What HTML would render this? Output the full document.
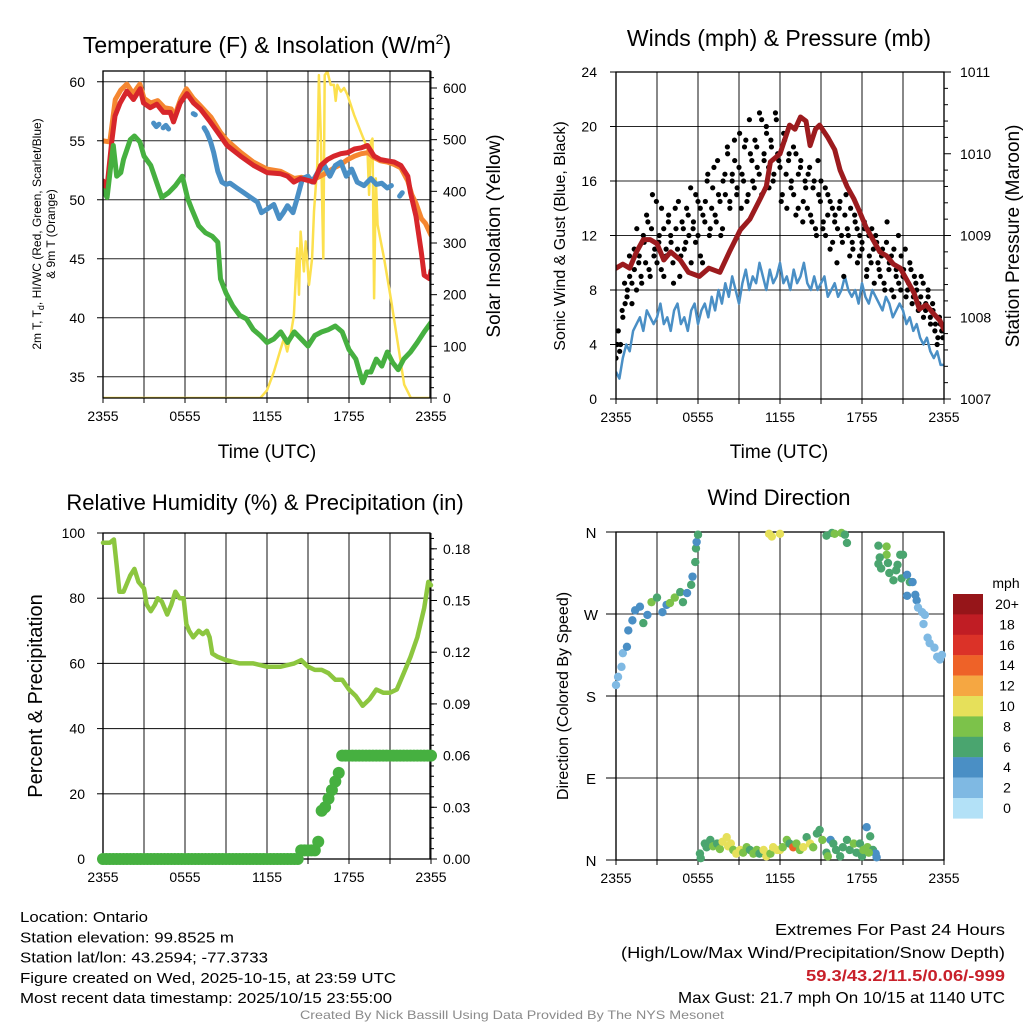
<!DOCTYPE html>
<html><head><meta charset="utf-8"><style>
html,body{margin:0;padding:0;background:#fff}
svg{display:block;font-family:"Liberation Sans",Arial,sans-serif}
</style></head><body>
<svg id="c" width="1024" height="1024" viewBox="0 0 1024 1024"></svg>
<script>
// ---------- DATA ----------
const redH=[0,0.27,0.64,0.88,1.25,1.74,2.23,2.72,2.96,3.45,3.94,4.43,4.92,5.16,5.65,6.14,6.63,7.12,7.85,8.59,9.08,10.06,11.03,12.0,13.0,13.5,13.97,14.46,15.44,15.93,16.42,16.9,17.4,17.9,18.4,18.9,19.35,19.84,20.3,20.8,21.3,21.8,22.3,22.5,22.9,23.3,23.5,23.9,24];
const redT=[51.6,50.8,54.9,57.1,58.2,59.2,58.5,59.4,58.2,57.8,58.1,57.4,57.4,56.6,58.2,59.0,58.2,57.7,56.6,55.4,54.6,53.7,52.9,52.3,52.2,52.0,51.5,51.8,51.5,52.9,53.4,53.7,53.9,54.0,54.3,54.4,54.6,53.7,53.4,53.3,53.2,52.9,52.0,50.6,48.6,45.5,43.6,43.3,44.0];
const orH=[0,0.5,0.9,1.3,1.75,2.2,2.7,3.0,3.5,4.0,4.5,5.0,5.2,5.7,6.1,6.6,7.1,7.9,8.6,9.1,10.1,11.0,12.0,13.0,14.0,14.5,15.4,15.9,16.4,16.9,17.4,17.9,18.4,18.9,19.4,19.8,20.3,20.8,21.3,21.8,22.3,22.6,22.9,23.3,23.6,24];
const orT=[55.0,54.9,58.5,59.3,59.8,59.0,59.8,58.6,58.2,58.4,57.8,57.7,57.0,58.6,59.4,58.6,58.0,57.0,55.7,55.0,54.0,53.2,52.6,52.4,51.8,51.9,51.7,52.0,52.3,52.7,53.0,53.4,53.7,53.9,54.0,53.6,53.3,53.2,53.0,52.7,51.6,50.4,49.7,48.4,48.0,47.0];
const blueSegH=[[3.7,3.9,4.1],[4.4,4.6,4.8],[6.6,6.75],[7.4,7.6,7.85,8.1,8.4,8.7,9.0,9.3,9.8,10.3,10.8,11.3,11.6,12.0,12.5,12.9,13.2,13.5,13.9,14.2,14.6,15.0,15.3,15.7,16.2,16.6,17.0,17.4,17.8,18.2,18.6,19.1,19.6,20.0,20.4,20.8,21.1],[21.7,21.9]];
const blueSegT=[[56.5,56.2,56.4],[56.1,56.3,56.0],[57.3,57.2],[56.1,55.7,55.0,54.0,52.4,51.5,51.3,51.4,51.0,50.6,50.2,49.8,48.9,49.2,49.6,48.4,48.9,49.5,48.9,50.1,51.8,52.0,51.5,52.3,52.9,52.0,52.9,53.2,52.0,52.6,51.5,51.2,51.8,51.3,51.4,51.0,51.2],[50.3,50.6]];
const grH=[0,0.3,0.6,0.75,1.0,1.3,1.5,2.0,2.3,2.7,3.0,3.5,4.0,4.3,4.8,5.3,5.8,6.2,6.5,7.0,7.5,8.0,8.4,8.6,9.0,9.5,10.0,10.5,11.0,11.5,12.0,12.5,13.0,13.5,14.0,14.5,15.0,15.5,16.0,16.5,17.0,17.5,18.0,18.5,19.0,19.3,19.6,20.0,20.4,20.8,21.2,21.6,22.0,22.5,23.0,23.5,24];
const grT=[50.8,50.2,53.2,54.6,52.0,52.3,53.4,55.1,55.4,54.9,53.7,52.9,51.2,50.2,50.6,51.2,52.0,50.1,49.2,47.8,47.2,46.9,46.4,43.3,42.1,41.0,40.2,39.9,39.0,38.5,37.9,38.2,38.8,37.9,38.8,38.2,37.6,38.5,38.8,39.0,39.3,38.8,37.3,36.5,34.5,35.4,35.4,36.5,35.9,37.1,36.2,35.6,36.5,37.1,37.9,38.8,39.6];
const solH=[0,11.52,12.0,12.5,13.0,13.24,13.48,13.72,13.97,14.21,14.34,14.46,14.7,14.83,15.07,15.3,15.44,15.68,15.8,15.93,16.12,16.22,16.42,16.66,16.9,17.03,17.15,17.4,17.64,17.88,18.37,18.86,19.35,19.47,19.6,19.72,19.84,19.96,20.09,20.57,21.06,21.55,22.04,22.53,24];
const solW=[0,0,15,50,95,115,90,120,160,290,200,322,245,303,219,270,361,451,625,515,270,625,632,606,606,575,606,593,600,587,548,515,483,393,496,502,193,425,335,270,193,110,26,0,0];
const windV=[2,1.5,3,4,3.5,5,5.5,6,5,6.5,6,5.5,6,7,5.5,6,5,6.5,7,5.5,6,5,6.5,7,5.5,6.5,7,6,7.5,6.5,8,7,8.5,7.5,9,8,7,8.5,9.5,8,9,8.5,10,9,8,9.5,8.5,9,10,8.5,9,8,9.5,8.5,9,10,8.5,8,9,8,8.5,9,7.5,8,8.5,7.5,8,9,8,7.5,8,7,8.5,7.5,7,8,7.5,7,6.5,7.5,7,6,6.5,7,6.5,5.5,6,5,5.5,4.5,4,4.5,3.5,3,3.5,2.5,2.5];
const gustV=[3,5,4,6,7,8,9,7,11,8,10,9,12,10,13,9,15,11,10,12,14,9,11,13,12,10,14,11,9,13,11,14,12,10,13,15,12,14,10,13,16,12,14,17,13,15,12,16,15,18,14,16,19,15,17,14,16,19,15,18,16,19,17,21,15,18,20,17,19,16,21,18,17,15,19,14,18,16,15,18,14,17,13,16,14,17,13,16,12,15,16,13,12,15,11,14,13,10,14,12,9,15,12,14,11,13,10,12,11,13,9,12,10,11,12,10,9,11,8,13,10,8,11,9,12,8,9,11,8,10,7,9,8,7,9,6,7,8,6,7,5,4,6,5,5];
const gustB=[4,3.5,6.5,8.5,7.5,10.5,8.5,9.5,12.5,10.5,8.5,11.5,13.5,9.5,12.5,10.5,14.5,11.5,9.5,12.5,10.5,13.5,11.5,8.5,12.5,14.5,10.5,12.5,11.5,13.5,15.5,12.5,11.5,14.5,10.5,13.5,14.5,16.5,12.5,15.5,13.5,17.5,14.5,12.5,16.5,18.5,14.5,16.5,17.5,15.5,19.5,16.5,18.5,14.5,20.5,17.5,15.5,18.5,16.5,20.5,17.5,19.5,15.5,18.5,16.5,20.5,17.5,14.5,19.5,16.5,17.5,15.5,18.5,13.5,16.5,17.5,14.5,15.5,16.5,13.5,15.5,12.5,17.5,14.5,12.5,15.5,13.5,14.5,11.5,13.5,12.5,14.5,11.5,13.5,12.5,10.5,11.5,13.5,12.5,10.5,11.5,12.5,9.5,10.5,12.5,8.5,11.5,9.5,10.5,8.5,11.5,9.5,10.5,7.5,9.5,8.5,10.5,9.5,7.5,8.5,9.5,7.5,8.5,6.5,7.5,8.5,6.5,7.5,5.5,6.5,5.5,4.5,5.5,4.5];
const presH=[0,0.5,1.0,1.5,2.0,2.5,3.0,3.5,4.0,4.7,5.3,6.1,6.8,7.6,8.3,9.1,9.8,10.5,11.0,11.3,12.0,12.7,13.1,13.5,13.9,14.2,14.6,14.9,15.5,16.0,16.4,16.9,17.4,17.8,18.3,18.8,19.3,19.8,20.3,20.8,21.3,21.8,22.2,22.7,23.2,23.7,24];
const presP=[1008.6,1008.65,1008.6,1008.8,1008.95,1008.95,1008.9,1008.7,1008.8,1008.7,1008.55,1008.5,1008.6,1008.55,1008.8,1009.07,1009.2,1009.43,1009.6,1009.9,1010.0,1010.35,1010.3,1010.45,1010.4,1010.1,1010.3,1010.35,1010.2,1010.05,1009.8,1009.6,1009.45,1009.3,1009.1,1008.95,1008.8,1008.75,1008.65,1008.6,1008.45,1008.3,1008.1,1008.15,1008.05,1007.96,1007.85];
const rhH=[0,0.5,0.8,1.0,1.2,1.5,2.0,2.3,2.6,3.0,3.2,3.5,3.8,4.0,4.3,4.7,5.0,5.3,5.6,5.9,6.1,6.3,6.6,7.0,7.3,7.6,7.8,8.0,8.4,9.0,10,11,12,13,14,14.5,15,15.5,16,16.5,17,17.5,18,18.5,19,19.5,20,20.5,21,21.5,22,22.5,23,23.5,23.8,24];
const rhV=[97,97,98,90,82,82,87,89,85,83,78,76,78,80,79,75,78,82,80,80,72,70,68,70,69,70,68,63,62,61,60,60,59,59,60,61,59,58,58,57,55,55,52,50,47,49,52,51,51,52,57,62,68,77,85,84];
const precipV=[0,0,0,0,0,0,0,0,0,0,0,0,0,0,0,0,0,0,0,0,0,0,0,0,0,0,0,0,0,0,0,0,0,0,0,0,0,0,0,0,0,0,0,0,0,0,0,0,0,0,0,0,0,0,0,0,0,0,0.005,0.005,0.005,0.005,0.005,0.01,0.028,0.03,0.035,0.04,0.045,0.05,0.06,0.06,0.06,0.06,0.06,0.06,0.06,0.06,0.06,0.06,0.06,0.06,0.06,0.06,0.06,0.06,0.06,0.06,0.06,0.06,0.06,0.06,0.06,0.06,0.06,0.06,0.06];
const dirH=[0,0.15,0.4,0.5,0.8,0.9,1.2,1.4,1.75,2.0,2.3,2.6,3.0,3.4,3.7,3.95,4.3,4.7,4.9,5.2,5.5,5.6,5.8,5.85,5.9,6.0,11.2,11.4,12.0,15.4,15.8,16.0,16.5,16.75,16.9,19.2,19.8,19.8,19.3,19.2,19.4,19.9,20.0,20.3,20.5,20.8,21.0,20.6,20.9,21.3,21.5,21.3,21.7,21.9,22.0,22.1,22.4,22.6,22.5,22.8,22.95,23.3,23.5,23.7,23.85,
6.14,6.2,6.5,6.63,6.9,7.1,7.4,7.6,7.8,8.1,8.2,8.4,8.58,8.8,9.07,9.3,9.56,9.8,10.05,10.3,10.5,10.8,11.0,11.3,11.5,11.8,12.0,12.2,12.5,12.7,12.97,13.2,13.46,13.7,13.95,14.2,14.43,14.7,14.9,15.1,15.4,15.5,15.7,15.9,16.1,16.4,16.6,16.9,17.1,17.4,17.6,17.85,18.0,18.1,18.34,18.4,18.6,18.8,19.0,19.07,18.5];
const dirD=[192,201,212,227,234,252,263,274,278,260,269,283,288,272,280,282,288,294,283,293,302,311,327,342,349,357,358,355,358,356,359,358,359,357,348,345,344,335,332,325,320,326,315,307,318,335,335,324,309,313,305,290,305,291,285,277,272,269,259,244,238,233,223,220,225,
7,2,18,14,22,15,18,12,20,25,15,18,11,7,11,8,14,11,7,11,7,11,4,7,14,11,11,14,22,18,14,18,11,14,25,18,14,29,33,22,8,4,22,18,11,4,14,22,11,18,8,18,4,11,36,14,26,11,7,3,8];
const dirS=[1,1,1,2,3,4,4,4,4,6,4,8,6,4,4,8,8,6,6,4,6,4,6,6,4,6,10,10,10,6,6,8,8,6,6,6,8,8,6,6,6,6,6,6,6,6,6,6,6,4,6,4,4,4,4,2,2,2,2,2,2,2,2,2,2,
6,6,6,6,6,8,6,8,10,10,10,10,8,10,10,8,8,6,8,8,6,10,10,8,10,10,10,8,8,6,14,8,8,10,6,10,8,6,6,8,6,8,4,6,6,6,6,6,6,8,6,6,6,8,4,8,6,6,4,4,8];
const cbLabels=["20+","18","16","14","12","10","8","6","4","2","0"];
const cbColors=["#961519","#c01d24","#db3228","#ee6228","#f5a742","#e6e05a","#7cc24a","#4aa56f","#4a8fc5","#7fb9e3","#b3e1f7"];

// ---------- HELPERS ----------
const NS="http://www.w3.org/2000/svg";
const svg=document.getElementById('c');
function el(tag,attrs,parent,text){const e=document.createElementNS(NS,tag);for(const k in attrs)e.setAttribute(k,attrs[k]);if(text!==undefined)e.textContent=text;(parent||svg).appendChild(e);return e;}
function txt(x,y,s,size,anchor,parent,extra){const t=el('text',Object.assign({x:x,y:y,'font-size':size,'text-anchor':anchor||'start',fill:'#000'},extra||{}),parent,s);return t;}
function path(pts){return pts.map((p,i)=>(i?'L':'M')+p[0].toFixed(1)+' '+p[1].toFixed(1)).join(' ');}
const ticksH=[0,3,6,9,12,15,18,21,24];
const tickLbl=["2355","","0555","","1155","","1755","","2355"];

const X1=h=>103+h*328/24, X2=h=>616+h*328/24;
const yT=t=>398-(t-33.2)*11.8, yS=w=>398-w*310/600;
const yW=v=>399-v*13.625, yP=p=>399-(p-1007)*81.75;
const yRH=r=>859-r*3.26, yPr=p=>859-p/0.03*51.7;
const yD=d=>860-d/360*328;

function frame(g,x0,y0,x1,y1,X,hTicks){
  for(let i=0;i<hTicks.length;i++){
    const gy=el('line',{x1:x0,x2:x1,y1:hTicks[i],y2:hTicks[i],stroke:'#000','stroke-width':1.1,'stroke-opacity':0.85},g);
    
    
  }
  ticksH.forEach((h,i)=>{
    const gx=el('line',{x1:X(h),x2:X(h),y1:y0,y2:y1,stroke:'#000','stroke-width':1.1,'stroke-opacity':0.85},g);
    
    
    el('line',{x1:X(h),x2:X(h),y1:y1,y2:y1+5,stroke:'#000'},g);
    if(tickLbl[i]){const t=txt(X(h),y1+23,tickLbl[i],14,'middle',g);}
  });
}
function border(g,x0,y0,x1,y1){const r=el('rect',{x:x0,y:y0,width:x1-x0,height:y1-y0,fill:'none',stroke:'#000','stroke-width':1.3},g);}

// ---------- PANEL 1 ----------
const g1=el('g',{});
frame(g1,103,71,430,398,X1,[35,40,45,50,55,60].map(yT));
[35,40,45,50,55,60].forEach(v=>{el('line',{x1:97,x2:103,y1:yT(v),y2:yT(v),stroke:'#000'},g1);const t=txt(85,yT(v)+5,String(v),14,'end',g1);});
for(let w=0;w<=620;w+=20){el('line',{x1:430,x2:w%100===0?437:434,y1:yS(w),y2:yS(w),stroke:'#000'},g1);}
[0,100,200,300,400,500,600].forEach(v=>{const t=txt(443,yS(v)+5,String(v),14,'start',g1);});
const clip1=el('clipPath',{id:'cp1'});el('rect',{x:103,y:71,width:327,height:327},clip1);
const L1=el('g',{'clip-path':'url(#cp1)'},g1);
const sol=el('path',{d:path(solH.map((h,i)=>[X1(h),yS(solW[i])])),fill:'none',stroke:'#fce04e','stroke-width':2.5,'stroke-linejoin':'round'},L1);

const orl=el('path',{d:path(orH.map((h,i)=>[X1(h),yT(orT[i])])),fill:'none',stroke:'#f58630','stroke-width':5,'stroke-linejoin':'round','stroke-linecap':'round'},L1);

blueSegH.forEach((seg,k)=>{const b=el('path',{d:path(seg.map((h,i)=>[X1(h),yT(blueSegT[k][i])])),fill:'none',stroke:'#4a8fc5','stroke-width':5,'stroke-linejoin':'round','stroke-linecap':'round'},L1);
});
const rl=el('path',{d:path(redH.map((h,i)=>[X1(h),yT(redT[i])])),fill:'none',stroke:'#d7262b','stroke-width':5,'stroke-linejoin':'round','stroke-linecap':'round'},L1);

const gl=el('path',{d:path(grH.map((h,i)=>[X1(h),yT(grT[i])])),fill:'none',stroke:'#46b040','stroke-width':5,'stroke-linejoin':'round','stroke-linecap':'round'},L1);

border(g1,103,71,430,398);
const t1=el('text',{x:267,y:53,'font-size':23,'text-anchor':'middle',},g1);
t1.innerHTML='Temperature (F) &amp; Insolation (W/m<tspan dy="-9" font-size="14">2</tspan><tspan dy="9">)</tspan>';
txt(267,458,'Time (UTC)',19,'middle',g1,{});
const yl1=el('text',{transform:'translate(41,234) rotate(-90)','font-size':12,'text-anchor':'middle',},g1);
yl1.innerHTML='2m T, T<tspan dy="3" font-size="9">d</tspan><tspan dy="-3">, HI/WC (Red, Green, Scarlet/Blue)</tspan>';
txt(0,0,'& 9m T (Orange)',12,'middle',g1,{transform:'translate(55,234) rotate(-90)',});
txt(0,0,'Solar Insolation (Yellow)',19,'middle',g1,{transform:'translate(500,236) rotate(-90)',});

// ---------- PANEL 2 ----------
const g2=el('g',{});
frame(g2,616,72,944,399,X2,[0,4,8,12,16,20,24].map(yW));
[0,4,8,12,16,20,24].forEach(v=>{el('line',{x1:610,x2:616,y1:yW(v),y2:yW(v),stroke:'#000'},g2);const t=txt(597,yW(v)+5,String(v),14,'end',g2);});
for(let p=1007;p<=1011.001;p+=0.2){el('line',{x1:944,x2:Math.abs(p-Math.round(p))<0.01?951:948,y1:yP(p),y2:yP(p),stroke:'#000'},g2);}
[1007,1008,1009,1010,1011].forEach(v=>{const t=txt(960,yP(v)+5,String(v),14,'start',g2);});
const clip2=el('clipPath',{id:'cp2'});el('rect',{x:616,y:72,width:328,height:327},clip2);
const L2=el('g',{'clip-path':'url(#cp2)'},g2);
const wl=el('path',{d:path(windV.map((v,i)=>[X2(i*24/(windV.length-1)),yW(v)])),fill:'none',stroke:'#4a8fc5','stroke-width':2.5,'stroke-linejoin':'round'},L2);

gustV.forEach((v,i)=>{const c=el('circle',{cx:X2(i*24/(gustV.length-1)),cy:yW(v),r:2.6,fill:'#000'},L2);
});
gustB.forEach((v,i)=>{const c=el('circle',{cx:X2((i+0.5)*24/gustB.length),cy:yW(v),r:2.6,fill:'#000'},L2);
});
const pl=el('path',{d:path(presH.map((h,i)=>[X2(h),yP(presP[i])])),fill:'none',stroke:'#9c1b1e','stroke-width':5,'stroke-linejoin':'round','stroke-linecap':'round'},L2);

border(g2,616,72,944,399);
txt(779,46,'Winds (mph) & Pressure (mb)',23,'middle',g2,{});
txt(779,458,'Time (UTC)',19,'middle',g2,{});
txt(0,0,'Sonic Wind & Gust (Blue, Black)',16,'middle',g2,{transform:'translate(565,236) rotate(-90)',});
txt(0,0,'Station Pressure (Maroon)',19,'middle',g2,{transform:'translate(1019,236) rotate(-90)',});

// ---------- PANEL 3 ----------
const g3=el('g',{});
frame(g3,103,533,430,859,X1,[0,20,40,60,80,100].map(yRH));
[0,20,40,60,80,100].forEach(v=>{el('line',{x1:97,x2:103,y1:yRH(v),y2:yRH(v),stroke:'#000'},g3);const t=txt(85,yRH(v)+5,String(v),14,'end',g3);});
for(let p=0;p<=0.1901;p+=0.006){el('line',{x1:430,x2:434,y1:yPr(p),y2:yPr(p),stroke:'#000'},g3);}
[0,0.03,0.06,0.09,0.12,0.15,0.18].forEach(v=>{el('line',{x1:430,x2:437,y1:yPr(v),y2:yPr(v),stroke:'#000'},g3);const t=txt(443,yPr(v)+5,v.toFixed(2),14,'start',g3);});
border(g3,103,533,430,859);
const clip3=el('clipPath',{id:'cp3'});el('rect',{x:97,y:533,width:340,height:332},clip3);
const L3=el('g',{'clip-path':'url(#cp3)'},g3);
const rh=el('path',{d:path(rhH.map((h,i)=>[X1(h),yRH(rhV[i])])),fill:'none',stroke:'#8cc63f','stroke-width':4.5,'stroke-linejoin':'round','stroke-linecap':'round'},L3);

precipV.forEach((v,i)=>{const c=el('circle',{cx:X1(i*24/(precipV.length-1)),cy:yPr(v),r:6,fill:'#46b040'},L3);
});
txt(265,510,'Relative Humidity (%) & Precipitation (in)',22,'middle',g3,{});
txt(0,0,'Percent & Precipitation',20,'middle',g3,{transform:'translate(42,696) rotate(-90)',});

// ---------- PANEL 4 ----------
const g4=el('g',{});
frame(g4,616,532,944,860,X2,[0,90,180,270,360].map(yD));
["N","E","S","W","N"].forEach((s,i)=>{el('line',{x1:606,x2:616,y1:yD(i*90),y2:yD(i*90),stroke:'#000'},g4);const t=txt(591,yD(i*90)+6,s,15,'middle',g4);});
const sc=s=>cbColors[10-Math.min(10,Math.round(s/2))];
border(g4,616,532,944,860);
dirH.forEach((h,i)=>{const c=el('circle',{cx:X2(h),cy:yD(dirD[i]),r:4.2,fill:sc(dirS[i])},g4);
});
txt(779,505,'Wind Direction',22,'middle',g4,{});
txt(0,0,'Direction (Colored By Speed)',16,'middle',g4,{transform:'translate(568,696) rotate(-90)',});
const cb=el('g',{});
txt(1006,588,'mph',14,'middle',cb,{});
cbColors.forEach((col,i)=>{const r=el('rect',{x:953,y:594+i*20.4,width:30,height:20.6,fill:col},cb);

const t=txt(1007,594+i*20.4+15,cbLabels[i],14,'middle',cb);});

// ---------- FOOTER ----------
const f=el('g',{});
const left=["Location: Ontario","Station elevation: 99.8525 m","Station lat/lon: 43.2594; -77.3733","Figure created on Wed, 2025-10-15, at 23:59 UTC","Most recent data timestamp: 2025/10/15 23:55:00"];
const lw=[128,214,248,376,372];
left.forEach((s,i)=>{const t=txt(20,922+i*20.3,s,15,'start',f,{textLength:lw[i],lengthAdjust:'spacingAndGlyphs'});});
txt(1005,935,'Extremes For Past 24 Hours',16,'end',f,{textLength:230,lengthAdjust:'spacingAndGlyphs',});
txt(1005,958,'(High/Low/Max Wind/Precipitation/Snow Depth)',16,'end',f,{textLength:384,lengthAdjust:'spacingAndGlyphs',});
txt(1005,981,'59.3/43.2/11.5/0.06/-999',16,'end',f,{fill:'#c8202a','font-weight':'bold',textLength:199,lengthAdjust:'spacingAndGlyphs',});
txt(1005,1003,'Max Gust: 21.7 mph On 10/15 at 1140 UTC',16,'end',f,{textLength:327,lengthAdjust:'spacingAndGlyphs',});
txt(512,1019,'Created By Nick Bassill Using Data Provided By The NYS Mesonet',12,'middle',f,{fill:'#8a8a8a',textLength:424,lengthAdjust:'spacingAndGlyphs',});
</script>
</body></html>
